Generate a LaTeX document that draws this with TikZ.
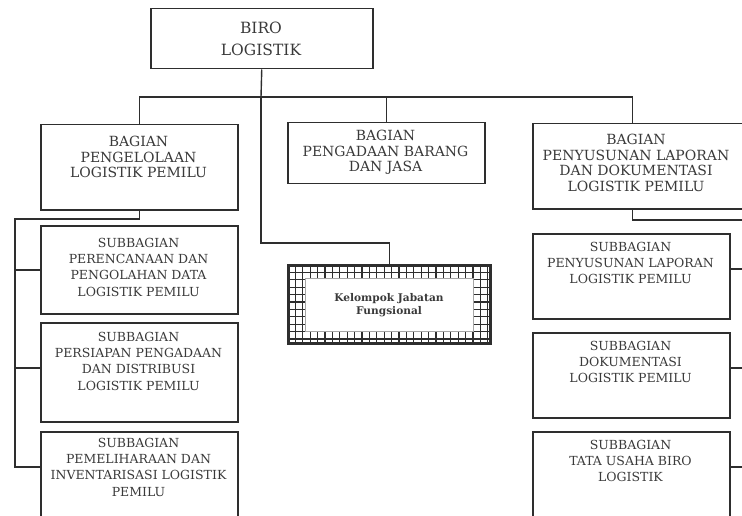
\documentclass[tikz,border=0pt]{standalone}
\usepackage{fontspec}
\setmainfont{DejaVu Serif}
\definecolor{lc}{HTML}{2E2E2E}
\definecolor{tc}{HTML}{3A3A3A}
\begin{document}
\begin{tikzpicture}[x=1pt,y=-1pt,
  box/.style={draw=lc, line width=1.5pt, fill=white, inner sep=0pt, anchor=north west},
  conn/.style={draw=lc, line width=1.4pt},
  tbig/.style={text=tc, inner sep=0pt, align=center, font=\fontsize{15.5}{22}\selectfont},
  tbag/.style={text=tc, inner sep=0pt, align=center, anchor=north, font=\fontsize{14}{15.5}\selectfont},
  tsub/.style={text=tc, inner sep=0pt, align=center, anchor=north, font=\fontsize{12.5}{16.2}\selectfont},
  tkel/.style={text=tc, inner sep=0pt, align=center, font=\bfseries\fontsize{10.6}{12.5}\selectfont},
  gridl/.style={draw=lc, line width=1.2pt}
]
\useasboundingbox (0,0) rectangle (742,516);
\clip (0,0) rectangle (742,516);
\fill[white] (0,0) rectangle (742,516);

% boxes
\node[box, minimum width=222, minimum height=60] (top) at (150,8) {};
\node[box, minimum width=197, minimum height=85] (bL) at (40,124) {};
\node[box, minimum width=197, minimum height=61] (bM) at (287,122) {};
\node[box, minimum width=214, minimum height=85] (bR) at (532,123) {};
\node[box, minimum width=197, minimum height=88] (s1) at (40,225) {};
\node[box, minimum width=197, minimum height=99] (s2) at (40,322) {};
\node[box, minimum width=197, minimum height=100] (s3) at (40,431) {};
\node[box, minimum width=197, minimum height=85] (r1) at (532,233) {};
\node[box, minimum width=197, minimum height=85] (r2) at (532,332) {};
\node[box, minimum width=197, minimum height=100] (r3) at (532,431) {};

% Kelompok Jabatan Fungsional
\node[box, minimum width=201, minimum height=77] (kf) at (288,265) {};
\begin{scope}
  \clip (288,265) rectangle (489,342);
  \foreach \i in {0,...,27} \draw[gridl] (288+\i*7.4,265) -- ++(0,77);
  \foreach \j in {0,...,10} \draw[gridl] (288,265+\j*7.4) -- ++(201,0);
\end{scope}
\draw[lc, line width=2pt] (kf.north west) rectangle (kf.south east);
\node[draw=gray!70, line width=1pt, fill=white, minimum width=168, minimum height=53, anchor=north west] (ki) at (305,278) {};

% texts
\node[tbig] (ttop) at (261,39) {BIRO\\LOGISTIK};
\node[tbag] (tbL) at (138.5,136) {BAGIAN\\PENGELOLAAN\\LOGISTIK PEMILU};
\node[tbag] (tbM) at (385.5,130) {BAGIAN\\PENGADAAN BARANG\\DAN JASA};
\node[tbag] (tbR) at (636,134) {BAGIAN\\PENYUSUNAN LAPORAN\\DAN DOKUMENTASI\\LOGISTIK PEMILU};
\node[tsub] (ts1) at (138.5,238) {SUBBAGIAN\\PERENCANAAN DAN\\PENGOLAHAN DATA\\LOGISTIK PEMILU};
\node[tsub] (ts2) at (138.5,332) {SUBBAGIAN\\PERSIAPAN PENGADAAN\\DAN DISTRIBUSI\\LOGISTIK PEMILU};
\node[tsub] (ts3) at (138.5,438) {SUBBAGIAN\\PEMELIHARAAN DAN\\INVENTARISASI LOGISTIK\\PEMILU};
\node[tsub] (tr1) at (630.5,242) {SUBBAGIAN\\PENYUSUNAN LAPORAN\\LOGISTIK PEMILU};
\node[tsub] (tr2) at (630.5,341) {SUBBAGIAN\\DOKUMENTASI\\LOGISTIK PEMILU};
\node[tsub] (tr3) at (630.5,440) {SUBBAGIAN\\TATA USAHA BIRO\\LOGISTIK};
\node[tkel] (tk) at (389,305) {Kelompok Jabatan\\Fungsional};

% coordinates
\coordinate (hub) at (261,97);
\coordinate (kbend) at (261,243);
\coordinate (lsp) at (15,219);
\coordinate (l1) at (15,270);
\coordinate (l2) at (15,368);
\coordinate (l3) at (15,467);
\coordinate (rsp) at (760,220);
\coordinate (rc1) at (760,269);
\coordinate (rc2) at (760,368);
\coordinate (rc3) at (760,467);

% connectors
\draw[conn] (top.south) -- (hub);
\draw[conn] (bL.north) |- ([xshift=-7]bR.north |- hub) -- ([xshift=-7]bR.north);
\draw[conn] (bM.north) -- (bM.north |- hub);
\draw[conn] (hub) -- (kbend) -| (kf.north);
\draw[conn] (bL.south) |- (lsp) -- (l3) -- (s3.west |- l3);
\draw[conn] (l1) -- (s1.west |- l1);
\draw[conn] (l2) -- (s2.west |- l2);
\draw[conn] ([xshift=-7]bR.south) |- (rsp);
\draw[conn] (r1.east |- rc1) -- (rc1);
\draw[conn] (r2.east |- rc2) -- (rc2);
\draw[conn] (r3.east |- rc3) -- (rc3);
\end{tikzpicture}
\end{document}
